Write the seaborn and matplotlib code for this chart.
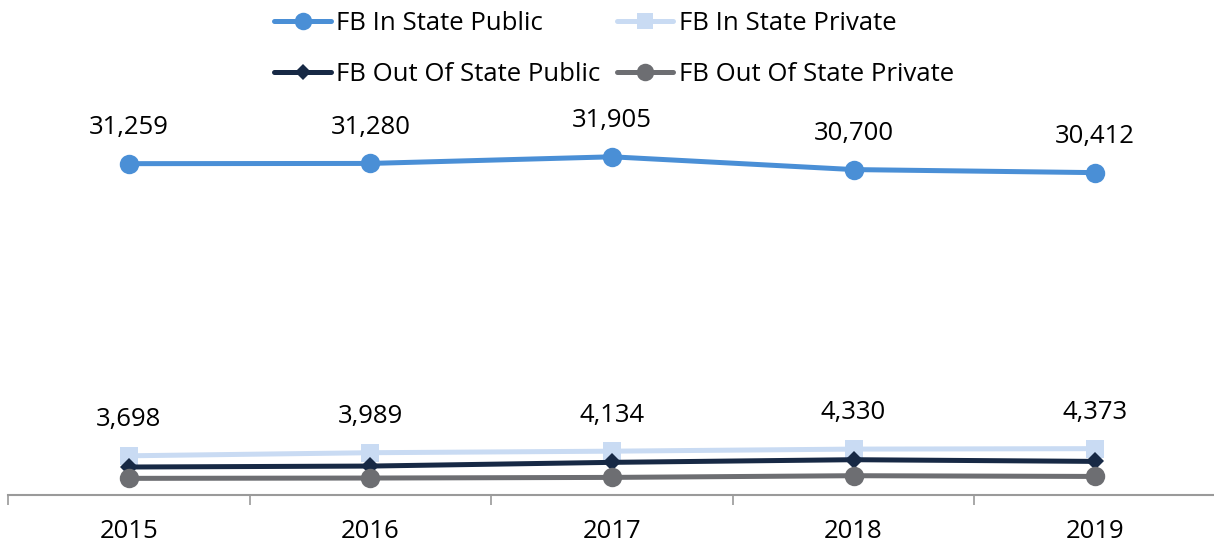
import matplotlib
matplotlib.use("Agg")
import matplotlib.pyplot as plt
import seaborn as sns
import pandas as pd
from matplotlib.ticker import FixedLocator

years = ["2015", "2016", "2017", "2018", "2019"]
in_state_public = [31259, 31280, 31905, 30700, 30412]
in_state_private = [3698, 3989, 4134, 4330, 4373]
out_state_public = [2640, 2730, 3080, 3330, 3170]
out_state_private = [1570, 1600, 1660, 1820, 1750]

series_names = ["FB In State Public", "FB In State Private",
                "FB Out Of State Public", "FB Out Of State Private"]
series_values = [in_state_public, in_state_private, out_state_public, out_state_private]
colors = ["#4A8FD6", "#C9DBF3", "#172945", "#6D6E72"]
markers = ["o", "s", "D", "o"]
msizes = [14, 12.5, 9, 14]
labeled = [True, True, False, False]

sns.set_theme(style="white")
plt.rcParams["font.family"] = ["Open Sans", "DejaVu Sans"]

FS = 18.5

fig = plt.figure(figsize=(12.14, 5.5), dpi=100)
ax = fig.add_axes([8 / 1214, 55 / 550, 1208 / 1214, 371 / 550])

rows = []
for name, vals in zip(series_names, series_values):
    for i, (y, v) in enumerate(zip(years, vals)):
        rows.append({"idx": i, "year": y, "value": v, "series": name})
df = pd.DataFrame(rows)

for k, name in enumerate(series_names):
    sub = df[df["series"] == name]
    sns.lineplot(data=sub, x="idx", y="value", ax=ax, color=colors[k],
                 marker=markers[k], markersize=msizes[k], linewidth=3.6,
                 markeredgewidth=0, label=name, zorder=3 + k, clip_on=False)
    if labeled[k]:
        for i, v in zip(sub["idx"], sub["value"]):
            ax.annotate(f"{v:,}", (i, v), xytext=(0, 26), textcoords="offset points",
                        ha="center", va="center", fontsize=FS, color="#000000",
                        annotation_clip=False)

ax.set_xlim(-0.5, 4.5)
ax.set_ylim(0, 35000)
ax.set_xticks(range(len(years)))
ax.set_xticklabels(years, fontsize=FS, color="#000000")
ax.xaxis.set_minor_locator(FixedLocator([-0.5, 0.5, 1.5, 2.5, 3.5, 4.5]))
ax.tick_params(axis="x", which="major", length=0, pad=17)
ax.tick_params(axis="x", which="minor", length=7, width=1.2, color="#9a9a9a", direction="out", bottom=True)
ax.set_yticks([])
ax.set_xlabel("")
ax.set_ylabel("")
for s in ["left", "right", "top"]:
    ax.spines[s].set_visible(False)
ax.spines["bottom"].set_color("#9a9a9a")
ax.spines["bottom"].set_linewidth(1.5)

h, l = ax.get_legend_handles_labels()
ax.get_legend().remove()
order = [0, 2, 1, 3]
fig.legend([h[i] for i in order], [l[i] for i in order], loc="center",
           bbox_to_anchor=(614 / 1214, 1 - 49 / 550), ncol=2,
           frameon=False, fontsize=FS, handlelength=2.2, handletextpad=0.2,
           columnspacing=0.65, labelspacing=1.05, markerscale=0.9)
for t in fig.legends[0].get_texts():
    t.set_color("#000000")

fig.savefig("out.png", dpi=100)
